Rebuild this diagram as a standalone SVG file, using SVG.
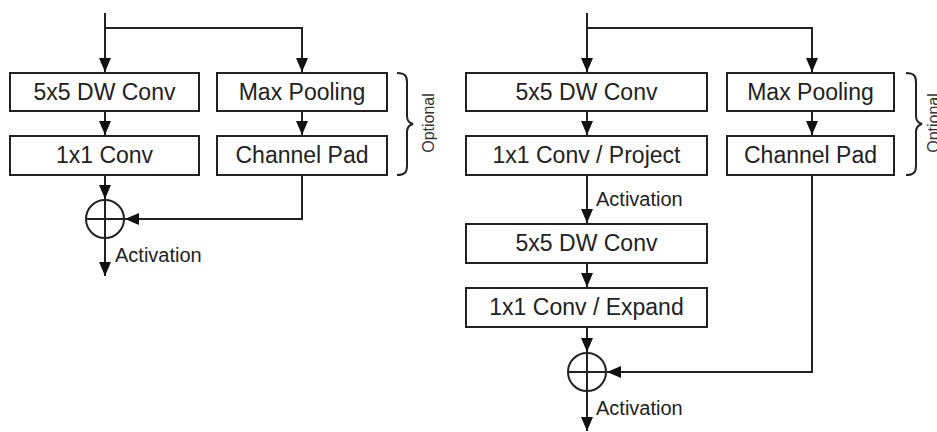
<svg xmlns="http://www.w3.org/2000/svg" width="937" height="432" viewBox="0 0 937 432">
<style>
.box{fill:#fff;stroke:#222;stroke-width:2}
.lbl{font-family:"Liberation Sans",Arial,sans-serif;font-size:23px;fill:#222;text-anchor:middle}
.act{font-family:"Liberation Sans",Arial,sans-serif;font-size:20px;fill:#222}
.opt{font-family:"Liberation Sans",Arial,sans-serif;font-size:16px;fill:#333;text-anchor:middle}
.ln{fill:none;stroke:#222;stroke-width:2}
.arr{fill:none;stroke:#222;stroke-width:2;marker-end:url(#ah)}
</style>
<defs>
<marker id="ah" markerUnits="userSpaceOnUse" markerWidth="15" markerHeight="13" refX="14" refY="6" orient="auto">
<path d="M0,0 L14,6 L0,12 z" fill="#111"/>
</marker>
</defs>
<rect width="937" height="432" fill="#fff"/>

<g id="connectors">
<path class="arr" d="M105,13 V72"/>
<path class="arr" d="M105,28 H302 V72"/>
<path class="arr" d="M105,111 V135"/>
<path class="arr" d="M302,111 V135"/>
<path class="arr" d="M105,175 V199"/>
<path class="arr" d="M302,175 V219 H125"/>
<path class="arr" d="M105,238 V276"/>
<path class="arr" d="M587,13 V72"/>
<path class="arr" d="M587,28 H812 V72"/>
<path class="arr" d="M587,111 V135"/>
<path class="arr" d="M812,111 V135"/>
<path class="arr" d="M587,175 V223"/>
<path class="arr" d="M587,263 V287"/>
<path class="arr" d="M587,327 V352"/>
<path class="arr" d="M812,175 V372 H607"/>
<path class="arr" d="M587,391 V431"/>
</g>

<g id="l_dw"><rect class="box" x="10" y="73" width="189" height="38"/><text class="lbl" x="104.5" y="100">5x5 DW Conv</text></g>
<g id="l_1x1"><rect class="box" x="10" y="136" width="189" height="39"/><text class="lbl" x="104.5" y="163">1x1 Conv</text></g>
<g id="l_mp"><rect class="box" x="217" y="73" width="170" height="38"/><text class="lbl" x="302" y="100">Max Pooling</text></g>
<g id="l_cp"><rect class="box" x="217" y="136" width="170" height="39"/><text class="lbl" x="302" y="163">Channel Pad</text></g>
<g id="l_add"><circle cx="105" cy="219" r="19" fill="#fff" stroke="#222" stroke-width="2"/><path class="ln" d="M105,200 V238 M86,219 H124"/></g>
<g id="l_act"><text class="act" x="115" y="262">Activation</text></g>
<g id="l_opt"><path class="ln" d="M397,73 C405,73 407,76 407,82 V116 C407,121 409,123 413,124 C409,125 407,127 407,132 V166 C407,172 405,175 397,175"/><text class="opt" transform="translate(434,123) rotate(-90)">Optional</text></g>

<g id="r_dw1"><rect class="box" x="466" y="73" width="241" height="38"/><text class="lbl" x="586.5" y="100">5x5 DW Conv</text></g>
<g id="r_proj"><rect class="box" x="466" y="136" width="241" height="39"/><text class="lbl" x="586.5" y="163">1x1 Conv / Project</text></g>
<g id="r_mp"><rect class="box" x="727" y="73" width="167" height="38"/><text class="lbl" x="810.5" y="100">Max Pooling</text></g>
<g id="r_cp"><rect class="box" x="727" y="136" width="167" height="39"/><text class="lbl" x="810.5" y="163">Channel Pad</text></g>
<g id="r_act1"><text class="act" x="596" y="206">Activation</text></g>
<g id="r_dw2"><rect class="box" x="466" y="224" width="241" height="39"/><text class="lbl" x="586.5" y="251">5x5 DW Conv</text></g>
<g id="r_exp"><rect class="box" x="466" y="288" width="241" height="39"/><text class="lbl" x="586.5" y="315">1x1 Conv / Expand</text></g>
<g id="r_add"><circle cx="587" cy="372" r="19" fill="#fff" stroke="#222" stroke-width="2"/><path class="ln" d="M587,353 V391 M568,372 H606"/></g>
<g id="r_act2"><text class="act" x="596" y="415">Activation</text></g>
<g id="r_opt"><path class="ln" d="M906,73 C914,73 916,76 916,82 V116 C916,121 918,123 922,124 C918,125 916,127 916,132 V166 C916,172 914,175 906,175"/><text class="opt" transform="translate(939,123) rotate(-90)">Optional</text></g>
</svg>
